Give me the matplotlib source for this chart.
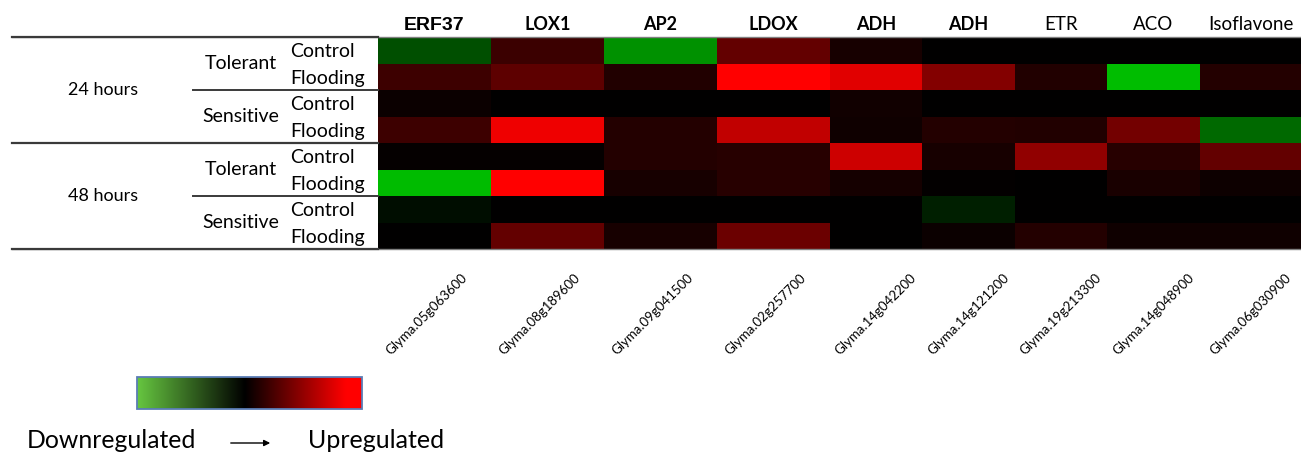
import numpy as np
import matplotlib
matplotlib.use("Agg")
import matplotlib.pyplot as plt
from matplotlib.colors import LinearSegmentedColormap

# ---------------- data ----------------
genes = ["ERF37", "LOX1", "AP2", "LDOX", "ADH", "ADH", "ETR", "ACO", "Isoflavone"]
gene_ids = ["Glyma.05g063600", "Glyma.08g189600", "Glyma.09g041500", "Glyma.02g257700",
            "Glyma.14g042200", "Glyma.14g121200", "Glyma.19g213300", "Glyma.14g048900",
            "Glyma.06g030900"]
times = ["24 hours", "48 hours"]
genotypes = ["Tolerant", "Sensitive"]
treatments = ["Control", "Flooding"]

# expression (negative = down / green, positive = up / red), rows:
# 24h Tol Ctrl, 24h Tol Flood, 24h Sens Ctrl, 24h Sens Flood,
# 48h Tol Ctrl, 48h Tol Flood, 48h Sens Ctrl, 48h Sens Flood
erf37 = [-0.31, 0.24, 0.04, 0.24, 0.02, -0.73, -0.05, 0.00]
lox1 = [0.23, 0.36, 0.00, 0.93, 0.02, 1.00, 0.00, 0.39]
ap2 = [-0.57, 0.13, 0.00, 0.14, 0.14, 0.09, 0.00, 0.09]
ldox = [0.39, 1.00, 0.00, 0.75, 0.15, 0.15, 0.00, 0.42]
adh_a = [0.09, 0.88, 0.07, 0.06, 0.80, 0.08, 0.00, 0.00]
adh_b = [0.00, 0.51, 0.00, 0.14, 0.09, 0.01, -0.12, 0.04]
etr = [0.00, 0.13, 0.00, 0.13, 0.57, 0.00, 0.00, 0.14]
aco = [0.00, -0.74, 0.00, 0.45, 0.15, 0.10, 0.00, 0.06]
isoflavone = [0.00, 0.14, 0.00, -0.41, 0.39, 0.05, 0.00, 0.06]

# ---------------- layout ----------------
W, H = 1301, 454
col_widths = [113, 113, 113, 113, 92, 93, 92, 93, 101]
heat_left, heat_top, row_h = 378, 37.3, 26.5
header_styles = [("Liberation Sans", "bold", 14)] + [("Lato", "bold", 13)] * 5 + \
                [("Lato", "normal", 13.5)] * 3

values = np.array([erf37, lox1, ap2, ldox, adh_a, adh_b, etr, aco, isoflavone]).T
n_rows, n_cols = values.shape

fig = plt.figure(figsize=(W / 100, H / 100), dpi=100)
ax = fig.add_axes([0, 0, 1, 1])
ax.set_xlim(0, W)
ax.set_ylim(H, 0)
ax.axis("off")

cmap = LinearSegmentedColormap.from_list("gkr", [(0, (0, 1, 0)), (0.5, (0, 0, 0)), (1, (1, 0, 0))])
xe = heat_left + np.concatenate([[0], np.cumsum(col_widths)])
ye = heat_top + row_h * np.arange(n_rows + 1)
ax.pcolormesh(xe, ye, values, cmap=cmap, vmin=-1, vmax=1, shading="flat")

xc = (xe[:-1] + xe[1:]) / 2
yc = (ye[:-1] + ye[1:]) / 2

# headers
for x, g, (fam, wt, fs) in zip(xc, genes, header_styles):
    ax.text(x, 25, g, ha="center", va="center", fontsize=fs, fontweight=wt,
            family=[fam, "DejaVu Sans"], color="black")

# rotated gene ids
for i, (x, gid) in enumerate(zip(xc, gene_ids)):
    dx = -8 if i < 4 else 0
    ax.text(x + dx, 314, gid, ha="center", va="center", rotation=45, fontsize=9.5,
            family=["Liberation Sans Narrow", "Lato", "DejaVu Sans"], color="black")

# table lines
lc = "#3a3a3a"
ax.plot([12, W], [ye[0], ye[0]], color="#808080", lw=1.0)
ax.plot([12, heat_left], [ye[0], ye[0]], color=lc, lw=1.6)
ax.plot([12, W], [ye[-1], ye[-1]], color="#808080", lw=1.0)
ax.plot([12, heat_left], [ye[-1], ye[-1]], color=lc, lw=1.6)
ax.plot([12, heat_left], [ye[4], ye[4]], color=lc, lw=1.6)
ax.plot([193, heat_left], [ye[2], ye[2]], color=lc, lw=1.4)
ax.plot([193, heat_left], [ye[6], ye[6]], color=lc, lw=1.4)

lab_font = ["Lato", "DejaVu Sans"]
for ti, t in enumerate(times):
    ax.text(103, ye[4 * ti + 2], t, ha="center", va="center", fontsize=13, family=lab_font)
    for gi, g in enumerate(genotypes):
        r0 = 4 * ti + 2 * gi
        ax.text(241, ye[r0 + 1], g, ha="center", va="center", fontsize=14, family=lab_font)
        for k, tr in enumerate(treatments):
            ax.text(290, yc[r0 + k] + 1, tr, ha="left", va="center", fontsize=14, family=lab_font)

# legend color bar
leg_cmap = LinearSegmentedColormap.from_list(
    "leg", [(0, "#66c640"), (0.48, "#000000"), (0.93, "#ff0000"), (1, "#ff0000")])
grad = np.linspace(0, 1, 256)[None, :]
ax.imshow(grad, cmap=leg_cmap, aspect="auto", extent=(137, 362, 409, 377), interpolation="bilinear")
ax.add_patch(plt.Rectangle((137, 377), 225, 32, fill=False, edgecolor="#5a7db5", lw=1.3))
ax.set_xlim(0, W)
ax.set_ylim(H, 0)

ax.text(27, 441, "Downregulated", ha="left", va="center", fontsize=17.8, family=lab_font)
ax.text(308, 441, "Upregulated", ha="left", va="center", fontsize=18, family=lab_font)
ax.annotate("", xy=(273, 443), xytext=(228, 443),
            arrowprops=dict(arrowstyle="-|>", color="black", lw=1.0, mutation_scale=9))

fig.savefig("out.png", dpi=100)
